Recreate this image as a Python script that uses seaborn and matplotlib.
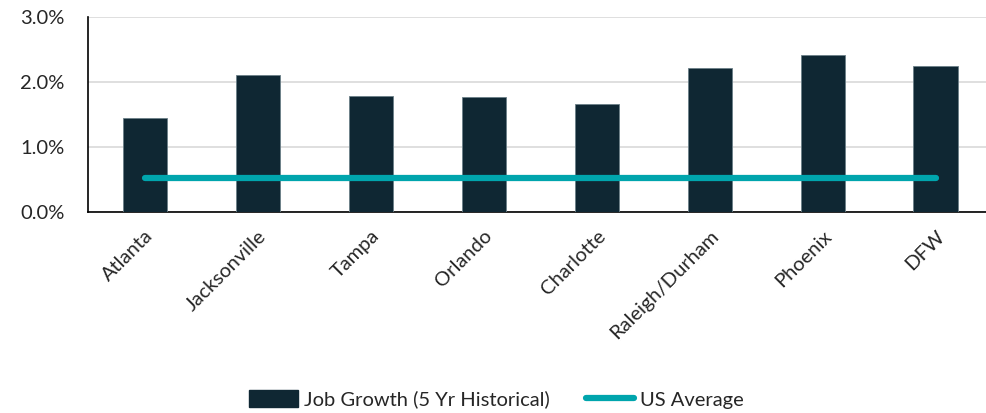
import matplotlib
matplotlib.use("Agg")
import matplotlib.pyplot as plt
import pandas as pd
import seaborn as sns
from matplotlib.lines import Line2D
from matplotlib.patches import Patch
from matplotlib.ticker import FuncFormatter

# Data
cities = ["Atlanta", "Jacksonville", "Tampa", "Orlando", "Charlotte",
          "Raleigh/Durham", "Phoenix", "DFW"]
job_growth = [1.45, 2.11, 1.79, 1.77, 1.66, 2.21, 2.41, 2.25]
us_average = [0.52, 0.52, 0.52, 0.52, 0.52, 0.52, 0.52, 0.52]
y_ticks = [0.0, 1.0, 2.0, 3.0]

BAR_COLOR = "#0f2733"
LINE_COLOR = "#00a5ad"

sns.set_theme(style="white")
plt.rcParams["font.family"] = ["Lato", "DejaVu Sans"]

df = pd.DataFrame({"City": cities, "Job Growth": job_growth, "US Average": us_average})

fig = plt.figure(figsize=(9.87, 4.13), dpi=100)
# axes runs slightly past the right edge, like the reference
ax = fig.add_axes([0.0892, 0.4867, 0.9159, 0.4721])

sns.barplot(data=df, x="City", y="Job Growth", color=BAR_COLOR, width=0.39,
            saturation=1, edgecolor="#6b7f88", linewidth=0.6, ax=ax, zorder=3)
sns.lineplot(x=range(len(cities)), y=df["US Average"], color=LINE_COLOR,
             linewidth=4.5, solid_capstyle="round", ax=ax, zorder=4)

ax.set_xlim(-0.5, len(cities) - 0.5)
ax.set_ylim(0, 3.0)
ax.set_yticks(y_ticks)
ax.yaxis.set_major_formatter(FuncFormatter(lambda v, _: f"{v:.1f}%"))
ax.grid(axis="y", color="#d9d9d9", linewidth=1.2, zorder=0)
ax.set_axisbelow(True)
ax.set_xlabel("")
ax.set_ylabel("")

for side in ["top", "right"]:
    ax.spines[side].set_visible(False)
for side in ["left", "bottom"]:
    ax.spines[side].set_color("black")
    ax.spines[side].set_linewidth(1.2)

ax.tick_params(axis="y", labelsize=14.5, pad=17, length=0)
ax.tick_params(axis="x", labelsize=14.5, length=0, pad=11)
plt.setp(ax.get_xticklabels(), rotation=45, ha="right", rotation_mode="anchor")

handles = [
    Patch(facecolor=BAR_COLOR, edgecolor=BAR_COLOR, label="Job Growth (5 Yr Historical)"),
    Line2D([0], [0], color=LINE_COLOR, linewidth=4.5, solid_capstyle="round", label="US Average"),
]
fig.legend(handles=handles, loc="center", bbox_to_anchor=(0.503, 0.033), ncol=2,
           frameon=False, fontsize=14.5, handlelength=2.4, handleheight=0.9,
           handletextpad=0.3, columnspacing=1.8)

fig.savefig("out.png", dpi=100)
